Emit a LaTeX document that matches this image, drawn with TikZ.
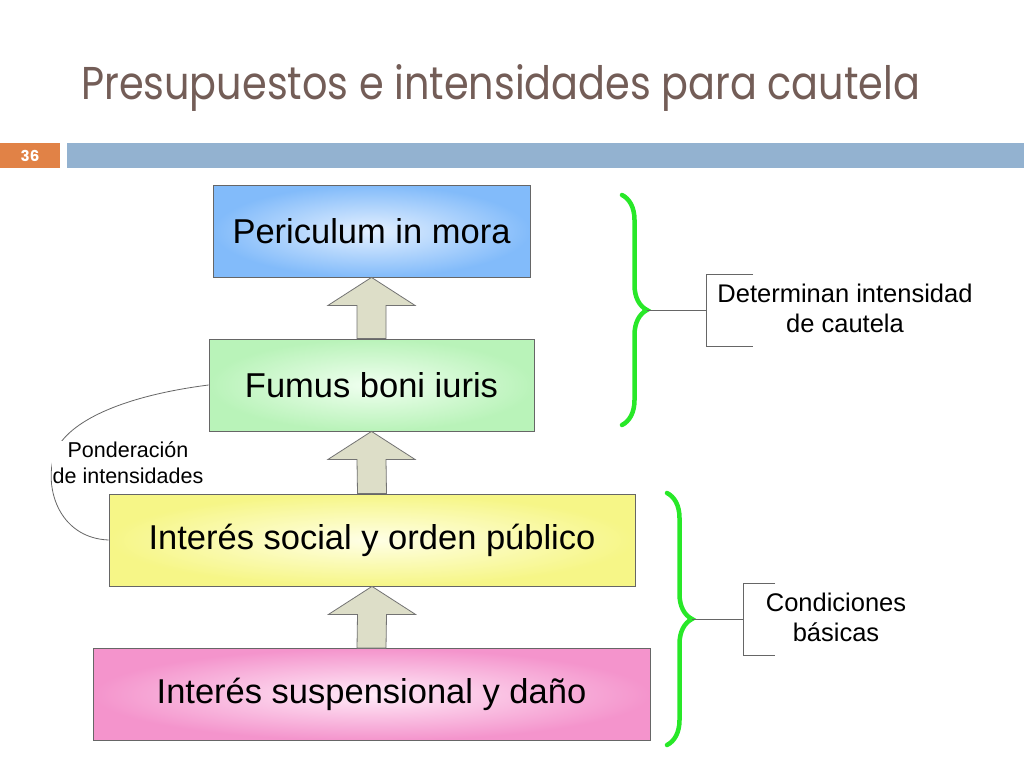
\documentclass[tikz,border=0pt]{standalone}
\usepackage{fontspec}
\setmainfont{Liberation Sans}
\newfontfamily\titlefont[FakeStretch=0.865]{Poppins}
\newfontfamily\numberfont{Poppins}
\usepackage{tikz}
\usetikzlibrary{positioning,calc,decorations.pathreplacing}
\definecolor{titlebrown}{RGB}{115,93,87}
\definecolor{slideorange}{RGB}{225,130,70}
\definecolor{barblue}{RGB}{147,178,208}
\definecolor{periout}{RGB}{130,187,250}
\definecolor{periin}{RGB}{228,240,255}
\definecolor{fumusout}{RGB}{185,243,185}
\definecolor{fumusin}{RGB}{240,255,240}
\definecolor{socialout}{RGB}{246,246,135}
\definecolor{socialin}{RGB}{255,255,230}
\definecolor{suspout}{RGB}{244,148,204}
\definecolor{suspin}{RGB}{255,235,248}
\definecolor{arrowfill}{RGB}{221,222,200}
\definecolor{bracegreen}{RGB}{40,232,40}

\begin{document}
\begin{tikzpicture}[x=1pt, y=-1pt,
    stage/.style={rectangle, draw=black!60, line width=0.8pt, text=black, minimum height=92pt, inner sep=0pt, font=\fontsize{34.5}{40}\selectfont},
    blockarrow/.style={draw=black!55, fill=arrowfill, line width=0.8pt},
    curly/.style={draw=bracegreen, line width=4.5pt, line cap=round, decorate, decoration={brace, amplitude=25pt}},
    tie/.style={draw=black!60, line width=0.9pt},
    note/.style={align=center, font=\fontsize{25.5}{30}\selectfont},
]
    \path[fill=white, use as bounding box] (0,0) rectangle (1024,768);

    % title and slide bar
    \node[font=\titlefont\fontsize{46}{50}\selectfont, text=titlebrown, anchor=base west, inner sep=0pt] (title) at (81,99) {Presupuestos e intensidades para cautela};
    \fill[slideorange] (0,143) rectangle (60,168);
    \fill[barblue] (67,143) rectangle (1024,168);
    \node[font=\numberfont\bfseries\fontsize{15}{17}\selectfont, text=white] (slideno) at (30,155.5) {36};

    % the four stages
    \node[stage, minimum width=317pt, inner color=periin, outer color=periout] (peri) at (371.5,231) {Periculum in mora};
    \node[stage, minimum width=325pt, inner color=fumusin, outer color=fumusout] (fumus) at (371.5,385) {Fumus boni iuris};
    \node[stage, minimum width=526pt, inner color=socialin, outer color=socialout] (social) at (372,540) {Interés social y orden público};
    \node[stage, minimum width=557pt, inner color=suspin, outer color=suspout] (susp) at (371.5,694.5) {Interés suspensional y daño};

    \foreach \lo/\hi in {fumus/peri, social/fumus, susp/social}
        \draw[blockarrow] ($(\lo.north)+(-14.5,0)$) -- ($(\hi.south)+(-14.5,28)$) -- ($(\hi.south)+(-43.5,28)$)
            -- (\hi.south) -- ($(\hi.south)+(43.5,28)$) -- ($(\hi.south)+(14.5,28)$) -- ($(\lo.north)+(14.5,0)$) -- cycle;

    % weighing
    \draw[tie, line width=0.8pt] (fumus.west) .. controls (130,395) and (72,418) .. (56,450)
        .. controls (42,485) and (58,538) .. (social.west);
    \node[font=\fontsize{21.5}{26}\selectfont, align=center, fill=white, inner sep=1pt] (ponder) at (128,463) {Ponderación\\de intensidades};

    % braces
    \draw[curly] (622,195) -- (622,425);
    \coordinate (uptip) at (647,310);
    \draw[tie] (uptip) -- ++(59,0) coordinate (upjoin);
    \draw[tie] ($(upjoin)+(47,-36)$) -- ++(-47,0) -- ++(0,72) -- ++(47,0);
    \node[note] (intens) at (845,308) {Determinan intensidad\\de cautela};

    \draw[curly] (667,493) -- (667,745);
    \coordinate (lotip) at (692,619);
    \draw[tie] (lotip) -- ++(51,0) coordinate (lojoin);
    \draw[tie] ($(lojoin)+(32,-36)$) -- ++(-32,0) -- ++(0,72) -- ++(32,0);
    \node[note] (basic) at (836,617) {Condiciones\\básicas};
\end{tikzpicture}
\end{document}
